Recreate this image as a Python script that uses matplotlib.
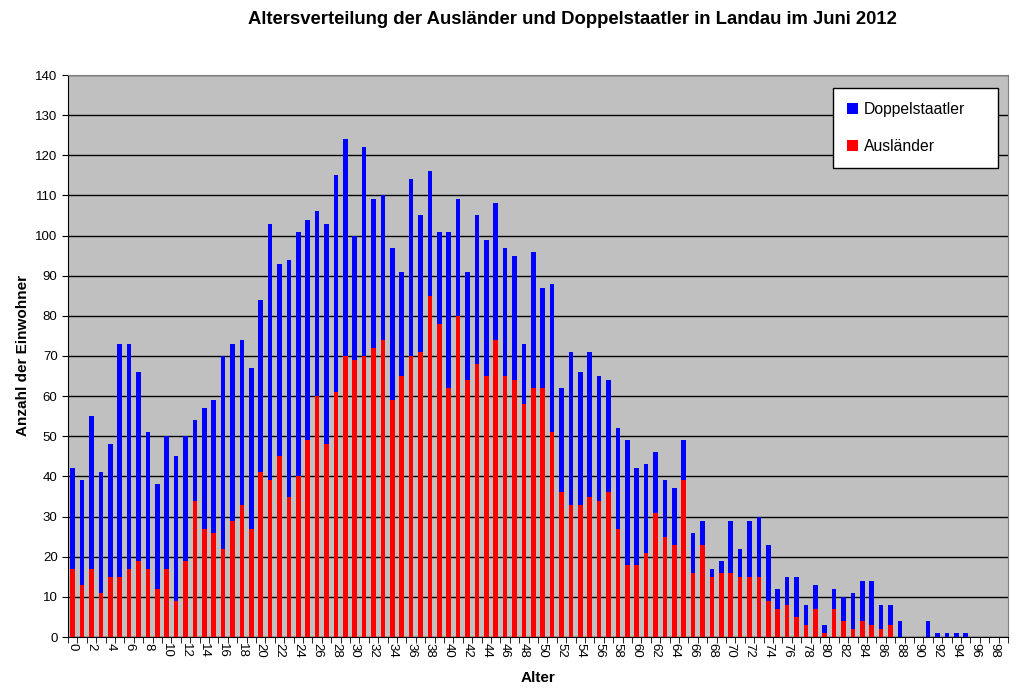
import matplotlib
matplotlib.use("Agg")
import matplotlib.pyplot as plt
import numpy as np

ages = list(range(100))
auslaender = [17,13,17,11,15,15,17,19,17,12,17,9,19,34,27,26,22,29,33,27,41,
              39,45,35,40,49,60,48,61,70,69,70,72,74,59,65,70,71,85,78,62,
              80,64,68,65,74,65,64,58,62,62,51,36,33,33,35,34,36,27,18,18,
              21,31,25,23,39,16,23,15,16,16,15,15,15,9,7,8,5,3,7,1,
              7,4,2,4,3,2,3,0,0,0,0,0,0,0,0,0,0,0,0]
doppelstaatler = [25,26,38,30,33,58,56,47,34,26,33,36,31,20,30,33,48,44,41,40,43,
                  64,48,59,61,55,46,55,54,54,31,52,37,36,38,26,44,34,31,23,39,
                  29,27,37,34,34,32,31,15,34,25,37,26,38,33,36,31,28,25,31,24,
                  22,15,14,14,10,10,6,2,3,13,7,14,15,14,5,7,10,5,6,2,
                  5,6,9,10,11,6,5,4,0,0,4,1,1,1,1,0,0,0,0]
title = "Altersverteilung der Ausländer und Doppelstaatler in Landau im Juni 2012"

plt.rcParams['font.family'] = ['Liberation Sans', 'DejaVu Sans']

fig = plt.figure(figsize=(10.24, 6.92), dpi=100)
ax = fig.add_axes([68/1024, 1-637/692, 940/1024, 562/692])
ax.set_facecolor('#C0C0C0')

x = np.arange(len(ages))
ax.bar(x, auslaender, width=0.5, color='#FF0000', label='Ausländer', zorder=3)
ax.bar(x, doppelstaatler, width=0.5, bottom=auslaender, color='#0000FF',
       label='Doppelstaatler', zorder=3)

ax.set_xlim(-0.5, 99.5)
ax.set_ylim(0, 140)
ax.set_yticks(range(0, 141, 10))
ax.yaxis.grid(True, color='black', linewidth=1.0, zorder=1)
ax.set_axisbelow(True)

ax.set_xticks(x[::2])
ax.set_xticklabels([str(a) for a in ages[::2]], rotation=-90, fontsize=9.5)
ax.set_xticks(np.arange(-0.5, 100, 1), minor=True)
ax.tick_params(axis='x', which='major', length=0, pad=4)
ax.tick_params(axis='x', which='minor', length=4, color='black')
ax.tick_params(axis='y', labelsize=9.5, length=4)

for s in ['top', 'right']:
    ax.spines[s].set_color('#808080')
ax.spines['left'].set_color('black')
ax.spines['bottom'].set_color('black')

ax.set_ylabel('Anzahl der Einwohner', fontsize=11, fontweight='bold', labelpad=4)
ax.set_xlabel('Alter', fontsize=11, fontweight='bold', labelpad=10)
fig.text(572/1024, 1-19/692, title, ha='center', va='center',
         fontsize=13.3, fontweight='bold')

h, l = ax.get_legend_handles_labels()
leg = ax.legend(h[::-1], l[::-1], loc='upper left',
                bbox_to_anchor=(0.814, 0.826, 0.175, 0.151), mode='expand',
                fancybox=False, framealpha=1, edgecolor='black',
                fontsize=11.3, handlelength=0.7, handleheight=0.7,
                labelspacing=1.4, borderpad=0.9, handletextpad=0.35,
                borderaxespad=0)
leg.get_frame().set_linewidth(1.0)
leg.set_zorder(5)
# shift legend content to the right inside the box
leg._legend_box.set_offset  # keep default
for hp in leg._legend_handle_box.get_children():
    pass

fig.savefig('out.png', dpi=100)
